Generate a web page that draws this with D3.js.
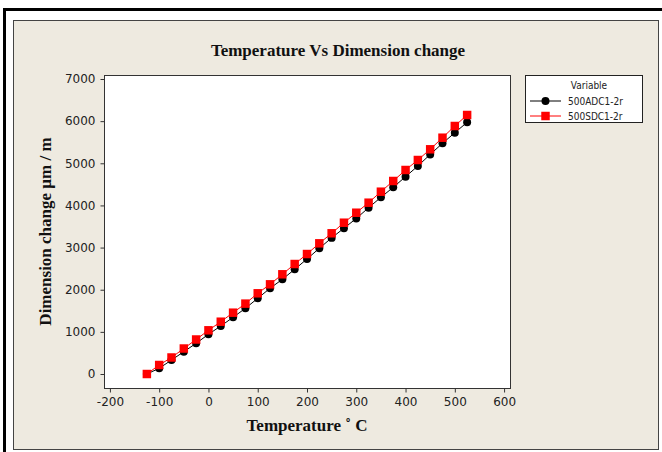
<!DOCTYPE html>
<html>
<head>
<meta charset="utf-8">
<script src="https://cdn.jsdelivr.net/npm/d3@7"></script>
<style>
    body { margin: 0; background: #fff; }
    svg { display: block; }
    .tick-label { font-family: "DejaVu Sans", sans-serif; font-size: 12px; fill: #222; }
    .serif-bold { font-family: "Liberation Serif", "Times New Roman", serif; font-weight: bold; font-size: 17px; fill: #111; }
    .legend text { font-family: "DejaVu Sans Condensed", "DejaVu Sans", sans-serif; font-size: 10px; fill: #222; }
</style>
</head>
<body>
<script>
/**
 * Data.
 */
const temperatures = [-125, -100, -75, -50, -25, 0, 25, 50, 75, 100, 125, 150, 175, 200,
    225, 250, 275, 300, 325, 350, 375, 400, 425, 450, 475, 500, 525];
const adcValues = [0, 135, 332, 529, 728, 942, 1139, 1345, 1559, 1796, 2034, 2247, 2484, 2729,
    2983, 3230, 3460, 3690, 3946, 4193, 4430, 4682, 4936, 5210, 5474, 5726, 5972];
const sdcValues = [0, 214, 392, 605, 819, 1037, 1241, 1455, 1670, 1915, 2128, 2366, 2610, 2847,
    3101, 3339, 3590, 3827, 4065, 4326, 4580, 4841, 5078, 5332, 5607, 5885, 6146];
const seriesNames = ['500ADC1-2r', '500SDC1-2r'];
const xTicks = [-200, -100, 0, 100, 200, 300, 400, 500, 600];
const yTicks = [0, 1000, 2000, 3000, 4000, 5000, 6000, 7000];

/**
 * Visual configs.
 */
const visWidth = 662, visHeight = 452,
    plot = { left: 104, right: 510, top: 75, bottom: 388 },
    panelColor = '#eeeae0',
    tickSize = 4;

const series = [
    { name: seriesNames[0], values: adcValues, color: '#000', symbol: d3.symbolCircle, size: 50 },
    { name: seriesNames[1], values: sdcValues, color: '#ff0000', symbol: d3.symbolSquare, size: 72 }
];

/**
 * D3.
 */
const xScale = d3.scaleLinear().domain([-212, 612]).range([plot.left, plot.right]),
    yScale = d3.scaleLinear().domain([-332, 7095]).range([plot.bottom, plot.top]);

const svg = d3.select('body').append('svg')
    .attr('width', visWidth)
    .attr('height', visHeight);

// Outer black frame (runs off the right and bottom edges)
svg.append('rect')
    .attr('x', 4.5).attr('y', 9.5)
    .attr('width', 700).attr('height', 500)
    .attr('fill', 'none').attr('stroke', '#000').attr('stroke-width', 3);

// Beige graph panel
svg.append('rect')
    .attr('x', 13.5).attr('y', 20.5)
    .attr('width', 645).attr('height', 429)
    .attr('fill', panelColor).attr('stroke', '#444');

// Data region
svg.append('rect')
    .attr('x', plot.left + 0.5).attr('y', plot.top + 0.5)
    .attr('width', plot.right - plot.left).attr('height', plot.bottom - plot.top)
    .attr('fill', '#fff').attr('stroke', '#333');

/**
 * Axes. Plain hyphen for negatives, as in the reference.
 */
const plainFormat = d => String(d);

const xAxis = svg.append('g')
    .attr('transform', 'translate(0,' + (plot.bottom + 0.5) + ')')
    .call(d3.axisBottom(xScale).tickValues(xTicks).tickSize(tickSize).tickSizeOuter(0).tickFormat(plainFormat));
const yAxis = svg.append('g')
    .attr('transform', 'translate(' + (plot.left + 0.5) + ',0)')
    .call(d3.axisLeft(yScale).tickValues(yTicks).tickSize(tickSize).tickSizeOuter(0).tickFormat(plainFormat));

[xAxis, yAxis].forEach(axis => {
    axis.select('.domain').remove();
    axis.selectAll('.tick line').attr('stroke', '#333');
    axis.selectAll('.tick text')
        .attr('class', 'tick-label')
        .attr('font-family', null).attr('font-size', null);
});
xAxis.selectAll('.tick text').attr('y', 9).attr('dy', '0.71em');
yAxis.selectAll('.tick text').attr('x', -9);

/**
 * Titles.
 */
svg.append('text').attr('class', 'serif-bold')
    .attr('x', 338).attr('y', 56)
    .attr('text-anchor', 'middle')
    .text('Temperature Vs Dimension change');

svg.append('text').attr('class', 'serif-bold')
    .attr('x', (plot.left + plot.right) / 2).attr('y', 431)
    .attr('text-anchor', 'middle')
    .text('Temperature \u02DA C');

svg.append('text').attr('class', 'serif-bold')
    .attr('transform', 'translate(51,' + ((plot.top + plot.bottom) / 2) + ') rotate(-90)')
    .attr('text-anchor', 'middle')
    .text('Dimension change \u00B5m / m');

/**
 * Series: lines then symbols, second series on top.
 */
const line = d3.line()
    .x(d => xScale(d.t))
    .y(d => yScale(d.v));

series.forEach(s => {
    const points = temperatures.map((t, i) => ({ t: t, v: s.values[i] }));
    const g = svg.append('g').attr('class', 'series');

    g.append('path')
        .datum(points)
        .attr('d', line)
        .attr('fill', 'none')
        .attr('stroke', s.color)
        .attr('stroke-width', 1);

    g.selectAll('.dot').data(points).enter().append('path')
        .attr('class', 'dot')
        .attr('transform', d => 'translate(' + xScale(d.t) + ',' + yScale(d.v) + ')')
        .attr('d', d3.symbol().type(s.symbol).size(s.size))
        .attr('fill', s.color);
});

/**
 * Legend.
 */
const legend = svg.append('g').attr('class', 'legend');
legend.append('rect')
    .attr('x', 525.5).attr('y', 75.5)
    .attr('width', 117).attr('height', 47)
    .attr('fill', '#fff').attr('stroke', '#222');
legend.append('text')
    .attr('x', 589).attr('y', 88.5)
    .attr('text-anchor', 'middle')
    .text('Variable');

series.forEach((s, i) => {
    const y = 101 + i * 15;
    legend.append('line')
        .attr('x1', 530).attr('x2', 561)
        .attr('y1', y).attr('y2', y)
        .attr('stroke', s.color);
    legend.append('path')
        .attr('transform', 'translate(545.5,' + y + ')')
        .attr('d', d3.symbol().type(s.symbol).size(s.size))
        .attr('fill', s.color);
    legend.append('text')
        .attr('x', 568).attr('y', y + 3.5)
        .text(s.name);
});
</script>
</body>
</html>
